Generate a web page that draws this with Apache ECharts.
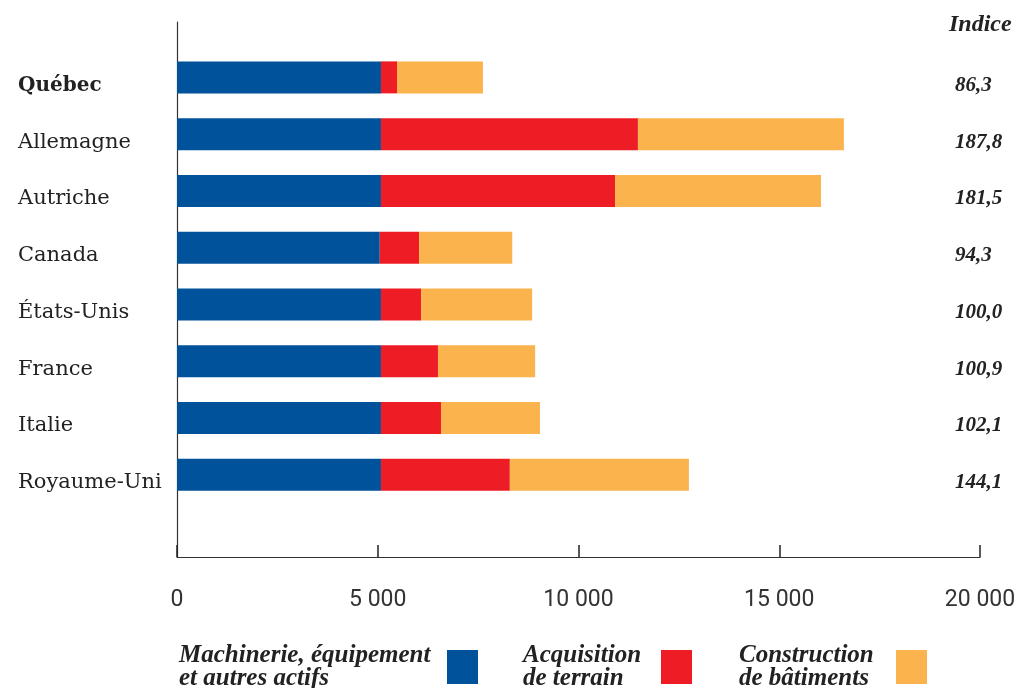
<!DOCTYPE html>
<html>
<head>
<meta charset="utf-8">
<script src="https://cdn.jsdelivr.net/npm/echarts@6/dist/echarts.min.js"></script>
<style>html,body{margin:0;padding:0;background:#fff}#c{width:1032px;height:688px}</style>
</head>
<body>
<div id="c"></div>
<script>
var categories = ['Québec','Allemagne','Autriche','Canada','États-Unis','France','Italie','Royaume-Uni'];
var machinery = [5080,5080,5080,5050,5080,5080,5080,5080];
var land = [400,6400,5830,980,1000,1420,1495,3210];
var building = [2140,5130,5130,2320,2765,2420,2465,4460];
var indice = ['86,3','187,8','181,5','94,3','100,0','100,9','102,1','144,1'];
var seriesNames = ['Machinerie, équipement\net autres actifs','Acquisition\nde terrain','Construction\nde bâtiments'];
var colors = ['#00529b','#ee1d25','#fbb34d'];
var xTicks = {min:0, max:20000, interval:5000};

var chart = echarts.init(document.getElementById('c'), null, {renderer:'canvas'});
var serif = '"DejaVu Serif", "Liberation Serif", serif';
var serif2 = '"Liberation Serif", "DejaVu Serif", serif';
function fmt(v){ return String(v).replace(/\B(?=(\d{3})+(?!\d))/g, ' '); }
function legend(i, left, w){
  return {
    data:[seriesNames[i]], left:left, top:638, orient:'horizontal', align:'right',
    itemWidth:31, itemHeight:34, itemGap:0, icon:'rect', selectedMode:false,
    formatter:function(name){ return name.split('\n').map(function(s){return '{a|'+s+'}';}).join('\n'); },
    textStyle:{rich:{a:{fontFamily:serif2, fontStyle:'italic', fontWeight:'bold', fontSize:25, lineHeight:23, color:'#222', width:w, align:'left'}}}
  };
}
var option = {
  animation:false,
  color: colors,
  title:{text:'Indice', left:944, top:8, textStyle:{fontFamily:serif2, fontStyle:'italic', fontWeight:'bold', fontSize:24, color:'#222'}},
  legend:[legend(0,174,263), legend(1,518,133), legend(2,734,152)],
  grid:[
    {left:177, right:52, top:49, height:454},
    {left:177, right:52, top:22, bottom:131}
  ],
  xAxis:[
    {gridIndex:0, type:'value', min:xTicks.min, max:xTicks.max, interval:xTicks.interval, show:false},
    {gridIndex:1, type:'value', min:xTicks.min, max:xTicks.max, interval:xTicks.interval,
     splitLine:{show:false},
     axisLine:{show:true, lineStyle:{color:'#333', width:1.2}},
     axisTick:{show:true, inside:true, length:12, lineStyle:{color:'#222', width:1.5}},
     axisLabel:{margin:32, fontFamily:'Roboto, "Liberation Sans", sans-serif', fontSize:23, color:'#333', formatter:fmt}}
  ],
  yAxis:[
    {gridIndex:0, type:'category', data:categories, inverse:true,
     axisLine:{show:false}, axisTick:{show:false},
     axisLabel:{align:'left', margin:159, padding:[16,0,0,0],
       formatter:function(v,i){ return i===0 ? '{b|'+v+'}' : '{n|'+v+'}'; },
       rich:{
         b:{fontFamily:serif, fontWeight:'bold', fontSize:20, color:'#222'},
         n:{fontFamily:serif, fontSize:21, color:'#222'}
       }}},
    {gridIndex:0, type:'category', data:indice, inverse:true, position:'right',
     axisLine:{show:false}, axisTick:{show:false},
     axisLabel:{align:'left', margin:-25, padding:[16,0,0,0],
       formatter:function(v){ return '{v|'+v+'}'; },
       rich:{v:{fontFamily:serif2, fontStyle:'italic', fontWeight:'bold', fontSize:21, color:'#222'}}}},
    {gridIndex:1, type:'category', data:[], axisLine:{show:true, lineStyle:{color:'#333', width:1.2}}, axisTick:{show:false}, axisLabel:{show:false}}
  ],
  series:[
    {name:seriesNames[0], type:'bar', stack:'t', data:machinery, barWidth:32, xAxisIndex:0, yAxisIndex:0, itemStyle:{color:colors[0]}},
    {name:seriesNames[1], type:'bar', stack:'t', data:land, barWidth:32, xAxisIndex:0, yAxisIndex:0, itemStyle:{color:colors[1]}},
    {name:seriesNames[2], type:'bar', stack:'t', data:building, barWidth:32, xAxisIndex:0, yAxisIndex:0, itemStyle:{color:colors[2]}}
  ]
};
chart.setOption(option);
</script>
</body>
</html>
